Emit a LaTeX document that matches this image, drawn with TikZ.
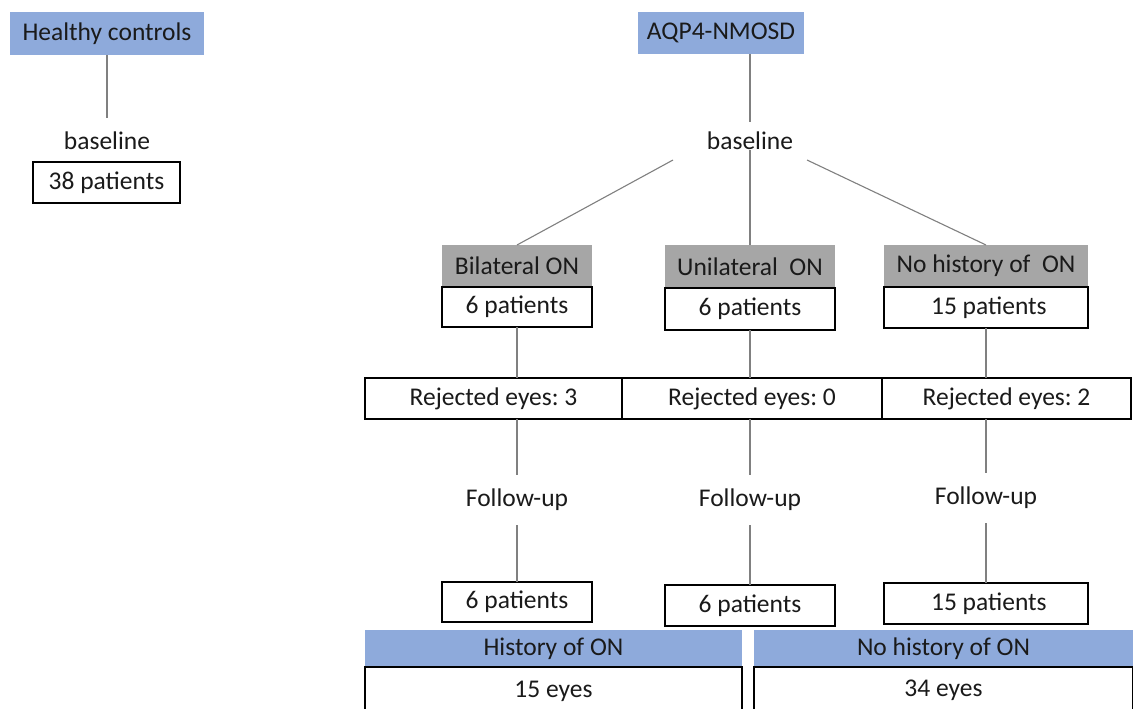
\documentclass[tikz,border=0pt]{standalone}
\usepackage{fontspec}
\setmainfont{Carlito}
\frenchspacing
\definecolor{hdrblue}{HTML}{8EAADB}
\definecolor{hdrgray}{HTML}{A6A6A6}
\definecolor{conn}{HTML}{808080}
\definecolor{txt}{HTML}{1A1A1A}
\tikzset{
  base/.style={inner sep=0pt, outer sep=0pt, text=txt, font=\fontsize{25.5}{30}\selectfont},
  bluebox/.style={base, fill=hdrblue},
  graybox/.style={base, fill=hdrgray},
  whitebox/.style={base, fill=white, draw=black, line width=1.6pt},
  label/.style={base},
  link/.style={draw=conn, line width=1.1pt},
}
\begin{document}
\begin{tikzpicture}[x=1pt,y=-1pt]
\useasboundingbox (0,0) rectangle (1133,709);
\clip (0,0) rectangle (1133,709);
\fill[white] (0,0) rectangle (1133,709);

% Healthy controls column
\node[bluebox, minimum width=194, minimum height=43] (hc) at (107,33.5) {Healthy controls};
\node[label, minimum width=90, minimum height=46] (bl1) at (107,141) {baseline};
\node[whitebox, minimum width=147, minimum height=41] (p38) at (106.5,182.5) {38 patients};
\draw[link] (hc.south) -- (bl1.north);

% AQP4-NMOSD column
\node[bluebox, minimum width=166, minimum height=42] (aqp) at (721,33) {AQP4-NMOSD};
\node[label, minimum width=134, minimum height=38] (bl2) at (750,141) {baseline};
\draw[link] (aqp.south -| bl2.north) -- (bl2.north);

% groups
\node[graybox, minimum width=150, minimum height=42] (g1) at (517,266) {Bilateral ON};
\node[whitebox, minimum width=150, minimum height=40, anchor=north] (p1) at (g1.south) {6 patients};
\node[graybox, minimum width=170, minimum height=43] (g2) at (750,266.5) {Unilateral\ \ ON};
\node[whitebox, minimum width=170, minimum height=42, anchor=north] (p2) at (g2.south) {6 patients};
\node[graybox, minimum width=204, minimum height=42] (g3) at (986,266) {No history of\ \ ON};
\node[whitebox, minimum width=204, minimum height=41, anchor=north] (p3) at (g3.south) {\ 15 patients};

\draw[link] ([xshift=-77pt]bl2.south) -- (g1.north);
\draw[link] ([yshift=10pt]bl2.south) -- (g2.north);
\draw[link] ([xshift=57pt]bl2.south) -- (g3.north);

% rejected eyes
\node[whitebox, minimum width=257, minimum height=41] (r1) at (493.5,398.5) {Rejected eyes: 3};
\node[whitebox, minimum width=260, minimum height=41] (r2) at (752,398.5) {Rejected eyes: 0};
\node[whitebox, minimum width=249, minimum height=41] (r3) at (1006.5,398.5) {Rejected eyes: 2};

\draw[link] (p1.south) -- (p1.south |- r1.north);
\draw[link] (p2.south) -- (p2.south |- r2.north);
\draw[link] (p3.south) -- (p3.south |- r3.north);

% follow-up
\node[label, minimum width=110, minimum height=50] (fu1) at (517,500) {Follow-up};
\node[label, minimum width=110, minimum height=50] (fu2) at (750,500) {Follow-up};
\node[label, minimum width=110, minimum height=50] (fu3) at (986,498) {Follow-up};

\draw[link] (fu1.north |- r1.south) -- (fu1.north);
\draw[link] (fu2.north |- r2.south) -- (fu2.north);
\draw[link] (fu3.north |- r3.south) -- (fu3.north);

\node[whitebox, minimum width=150, minimum height=40] (f1) at (517,602) {6 patients};
\node[whitebox, minimum width=170, minimum height=41] (f2) at (750,605.5) {6 patients};
\node[whitebox, minimum width=204, minimum height=41] (f3) at (986,603.5) {\ 15 patients};

\draw[link] (fu1.south) -- (f1.north);
\draw[link] (fu2.south) -- (f2.north);
\draw[link] (fu3.south) -- (f3.north);

% bottom summary
\node[bluebox, minimum width=377, minimum height=37] (ho) at (553.5,648.5) {History of ON};
\node[whitebox, minimum width=377, minimum height=50, anchor=north] (he) at (ho.south) {\raisebox{5pt}{15 eyes}};
\node[bluebox, minimum width=379, minimum height=37] (nho) at (943.5,648.5) {No history of ON};
\node[whitebox, minimum width=379, minimum height=50, anchor=north] (ne) at (nho.south) {\raisebox{7pt}{34 eyes}};
\end{tikzpicture}
\end{document}
